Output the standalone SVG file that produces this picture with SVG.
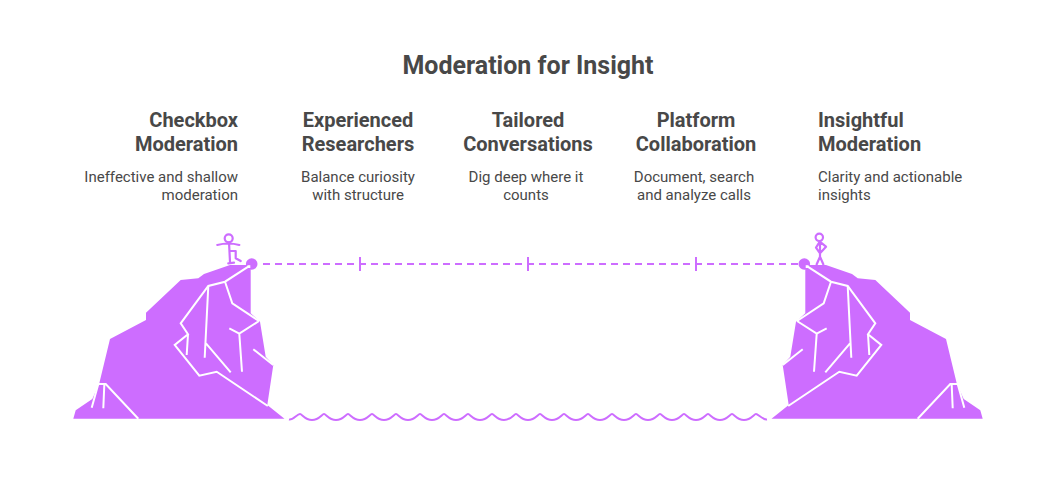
<svg xmlns="http://www.w3.org/2000/svg" xmlns:xlink="http://www.w3.org/1999/xlink" width="1056" height="493" viewBox="0 0 1056 493">
<style>
text{font-family:Roboto,"Liberation Sans",sans-serif;fill:#484848}
.t{font-size:25px;font-weight:700}
.h{font-size:20px;font-weight:700}
.d{font-size:15px;font-weight:400}
.m{text-anchor:middle}.e{text-anchor:end}
.w{fill:none;stroke:#fff;stroke-width:2;stroke-linejoin:miter}
.p{fill:none;stroke:#cd6dff;stroke-width:2.2;stroke-linecap:round;stroke-linejoin:round}
.c{fill:none;stroke:#cd6dff;stroke-width:2}
</style>
<defs>
<g id="rock">
<path fill="#cd6dff" d="M73.3 418.7L75.7 410.3L92.3 399L99.3 383.3L110 339L146 320V312.7L180.7 280L198.3 278.3L204 274L230 265H250.7V313.3L260 321.7L265.7 356.7L273.3 365L267.3 405L284.5 418.7Z"/>
<circle cx="251.7" cy="264" r="5.8" fill="#cd6dff"/>
<rect x="247.5" y="265.2" width="2.8" height="2.8" fill="#fff"/>
<path class="w" d="M248.3 266.7L225 281.7L208.3 286L180.7 323.3L188 334.3L174.7 345L199.3 375.7L216.7 371.7L267.8 406"/>
<path class="w" d="M188 334.3L186.7 355M208.3 286L204.7 357.7M206 343.3L230.7 372.3"/>
<path class="w" d="M225 281.7L232.3 303.3L259 321M259 321L239.3 333.7L229.3 328.3M239.3 333.7L242 371.7M253.3 349.3L273.3 365"/>
<path class="w" d="M91.7 407.7L98.3 384H105.7L138.3 418.7M104.3 385L103.3 408.3"/>
</g>
</defs>
<text class="t m" x="528" y="74">Moderation for Insight</text>
<g id="connectors">
<path class="c" stroke-dasharray="7 5" d="M263 264H804"/>
<path class="c" d="M360 257V271M528 257V271M696 257V271"/>
<path class="c" d="M289 419.5C293 420.5 297 414 300 414C302 414 305 420 312 420C319 420 322 414 324 414C326 414 329 420 336 420C343 420 346 414 348 414C350 414 353 420 360 420C367 420 370 414 372 414C374 414 377 420 384 420C391 420 394 414 396 414C398 414 401 420 408 420C415 420 418 414 420 414C422 414 425 420 432 420C439 420 442 414 444 414C446 414 449 420 456 420C463 420 466 414 468 414C470 414 473 420 480 420C487 420 490 414 492 414C494 414 497 420 504 420C511 420 514 414 516 414C518 414 521 420 528 420C535 420 538 414 540 414C542 414 545 420 552 420C559 420 562 414 564 414C566 414 569 420 576 420C583 420 586 414 588 414C590 414 593 420 600 420C607 420 610 414 612 414C614 414 617 420 624 420C631 420 634 414 636 414C638 414 641 420 648 420C655 420 658 414 660 414C662 414 665 420 672 420C679 420 682 414 684 414C686 414 689 420 696 420C703 420 706 414 708 414C710 414 713 420 720 420C727 420 730 414 732 414C734 414 737 420 744 420C751 420 754 414 756 414C758 414 763 420 767 419.5"/>
</g>
<g id="rock-left"><use href="#rock"/></g>
<g id="rock-right"><use href="#rock" transform="translate(1056 0) scale(-1 1)"/></g>
<g id="person-left">
<circle class="p" cx="228.7" cy="238.3" r="4"/>
<path class="p" d="M217.3 245Q228.3 242 239.3 245M229 242.3L230 261.7M228.3 263.3L234 262.7M230.7 251H235.7V258.3L240.7 261"/>
</g>
<g id="person-right">
<circle class="p" cx="819.3" cy="237.3" r="3.7"/>
<path class="p" d="M819.8 241.7L816 247.7L820 253.3L826 246.7ZM820 241.7V256.7M820 256.7L816.7 264.3M820 256.7L823.3 264.3"/>
</g>
<g id="col-1">
<text class="h e" x="238" y="127">Checkbox</text><text class="h e" x="238" y="151">Moderation</text>
<text class="d e" x="238" y="182">Ineffective and shallow</text><text class="d e" x="238" y="200">moderation</text>
</g>
<g id="col-2">
<text class="h m" x="358" y="127">Experienced</text><text class="h m" x="358" y="151">Researchers</text>
<text class="d m" x="358" y="182">Balance curiosity</text><text class="d m" x="358" y="200">with structure</text>
</g>
<g id="col-3">
<text class="h m" x="528" y="127">Tailored</text><text class="h m" x="528" y="151">Conversations</text>
<text class="d m" x="526" y="182">Dig deep where it</text><text class="d m" x="526" y="200">counts</text>
</g>
<g id="col-4">
<text class="h m" x="696" y="127">Platform</text><text class="h m" x="696" y="151">Collaboration</text>
<text class="d m" x="694" y="182">Document, search</text><text class="d m" x="694" y="200">and analyze calls</text>
</g>
<g id="col-5">
<text class="h" x="818" y="127">Insightful</text><text class="h" x="818" y="151">Moderation</text>
<text class="d" x="818" y="182">Clarity and actionable</text><text class="d" x="818" y="200">insights</text>
</g>
</svg>
